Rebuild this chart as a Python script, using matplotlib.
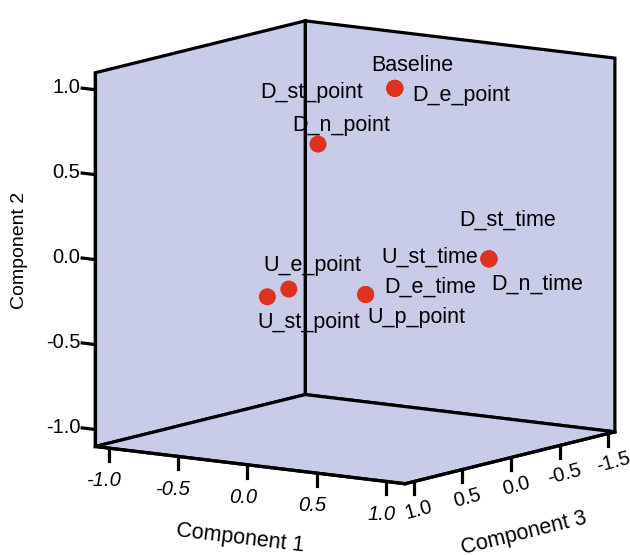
import matplotlib
matplotlib.use('Agg')
import matplotlib.pyplot as plt
import numpy as np
from matplotlib.transforms import offset_copy

plt.rcParams['font.family'] = ['Liberation Sans', 'DejaVu Sans']

# ---------------- data ----------------
point_labels = ['Baseline', 'D_st_point', 'D_e_point', 'D_n_point', 'U_e_point',
                'U_st_point', 'D_e_time', 'U_p_point', 'D_st_time', 'U_st_time', 'D_n_time']
comp1 = [0.23, 0.23, 0.23, -0.15, -0.08, -0.20, 0.30, 0.30, 0.70, 0.70, 0.70]
comp2 = [0.97, 0.97, 0.97, 0.64, -0.15, -0.20, -0.18, -0.18, -0.03, -0.03, -0.03]
comp3 = [-0.10, -0.10, -0.10, 0.15, 0.55, 0.60, 0.30, 0.30, -0.40, -0.40, -0.40]

c1_ticks = [-1.0, -0.5, 0.0, 0.5, 1.0]
c1_ticklabels = ['-1.0', '-0.5', '0.0', '0.5', '1.0']
c2_ticks = [-1.0, -0.5, 0.0, 0.5, 1.0]
c2_ticklabels = ['-1.0', '-0.5', '0.0', '0.5', '1.0']
c3_ticks = [1.0, 0.5, 0.0, -0.5, -1.0]
c3_ticklabels = ['1.0', '0.5', '0.0', '-0.5', '-1.5']

# ---------------- layout / style ----------------
label_layout = {
    'Baseline':   (17.5, 17, 'center'),
    'D_st_point': (-32, -10, 'right'),
    'D_e_point':  (17, -13, 'left'),
    'D_n_point':  (23, 13, 'center'),
    'U_e_point':  (-25, 18, 'left'),
    'U_st_point': (-10, -31, 'left'),
    'D_e_time':   (19, 2, 'left'),
    'U_p_point':  (2, -29, 'left'),
    'D_st_time':  (-30, 33, 'left'),
    'U_st_time':  (-11, -4, 'right'),
    'D_n_time':   (2, -31, 'left'),
}
pane_color = '#C8CCE8'
dot_color = '#E0301E'
lw = 2.3

fig = plt.figure(figsize=(6.3, 5.55), dpi=100)
S = 600
cx, cy = 347, 260.4
ax = fig.add_axes([(cx - S / 2) / 630, (555 - cy - S / 2) / 555, S / 630, S / 555],
                  projection='3d')
ax.set_proj_type('ortho')
ax.view_init(elev=9.93, azim=34.9)
# x -> Component 3, y -> Component 1, z -> Component 2
ax.set_xlim(-1.07, 1.09)
ax.set_ylim(-1.1, 1.14)
ax.set_zlim(-1.1, 1.1)
ax.set_box_aspect((366.1, 376.8, 378.6), zoom=1.05)

for axis in (ax.xaxis, ax.yaxis, ax.zaxis):
    axis.set_pane_color(pane_color)
    axis.pane.set_closed(True)
    axis.pane.set_edgecolor('black')
    axis.pane.set_linewidth(lw)
    axis.line.set_color('black')
    axis.line.set_linewidth(lw)
    axis._axinfo['tick']['inward_factor'] = 0.0
    axis._axinfo['tick']['linewidth'] = {True: lw, False: 1.0}
    axis._axinfo['grid']['linewidth'] = 0
ax.grid(False)
ax.xaxis._axinfo['tick']['outward_factor'] = 0.43
ax.yaxis._axinfo['tick']['outward_factor'] = 0.43
ax.zaxis._axinfo['tick']['outward_factor'] = 0.53
# tick marks of the two floor axes point straight down, vertical-axis ticks point left
ax.xaxis._get_tickdir = lambda position: 2
ax.yaxis._get_tickdir = lambda position: 2
ax.zaxis._get_tickdir = lambda position: 1
# directions in which tick labels / axis titles are pushed away from the box
ax.xaxis._axmask = lambda: [0.0, 0.22, 1.0]
ax.yaxis._axmask = lambda: [0.25, 0.0, 1.0]
ax.zaxis._axmask = lambda: [0.0, 1.0, 0.0]

ax.set_xticks(c3_ticks, c3_ticklabels, fontsize=14.5, rotation=15, ha='center', va='center')
ax.set_yticks(c1_ticks, c1_ticklabels, fontsize=14.5, fontstyle='italic', ha='center', va='center')
ax.set_zticks(c2_ticks, c2_ticklabels, fontsize=14.5, ha='right', va='center')
ax.tick_params(colors='black')
ax.tick_params(axis='x', pad=9)
ax.tick_params(axis='y', pad=11)
ax.tick_params(axis='z', pad=3)

ax.set_xlabel('Component 3', fontsize=15.5, labelpad=23.5)
ax.set_ylabel('Component 1', fontsize=15.5, labelpad=21.5)
ax.set_zlabel('Component 2', fontsize=14, labelpad=34)

ax.scatter(comp3, comp1, comp2, s=150, c=dot_color, depthshade=False,
           edgecolors='none', alpha=1)
for lab, x, y, z in zip(point_labels, comp3, comp1, comp2):
    dx, dy, ha = label_layout[lab]
    ax.text(x, y, z, lab, fontsize=15.5, ha=ha, va='baseline',
            transform=offset_copy(ax.transData, fig=fig, x=dx, y=dy, units='dots'))

fig.savefig('out.png', dpi=100)
